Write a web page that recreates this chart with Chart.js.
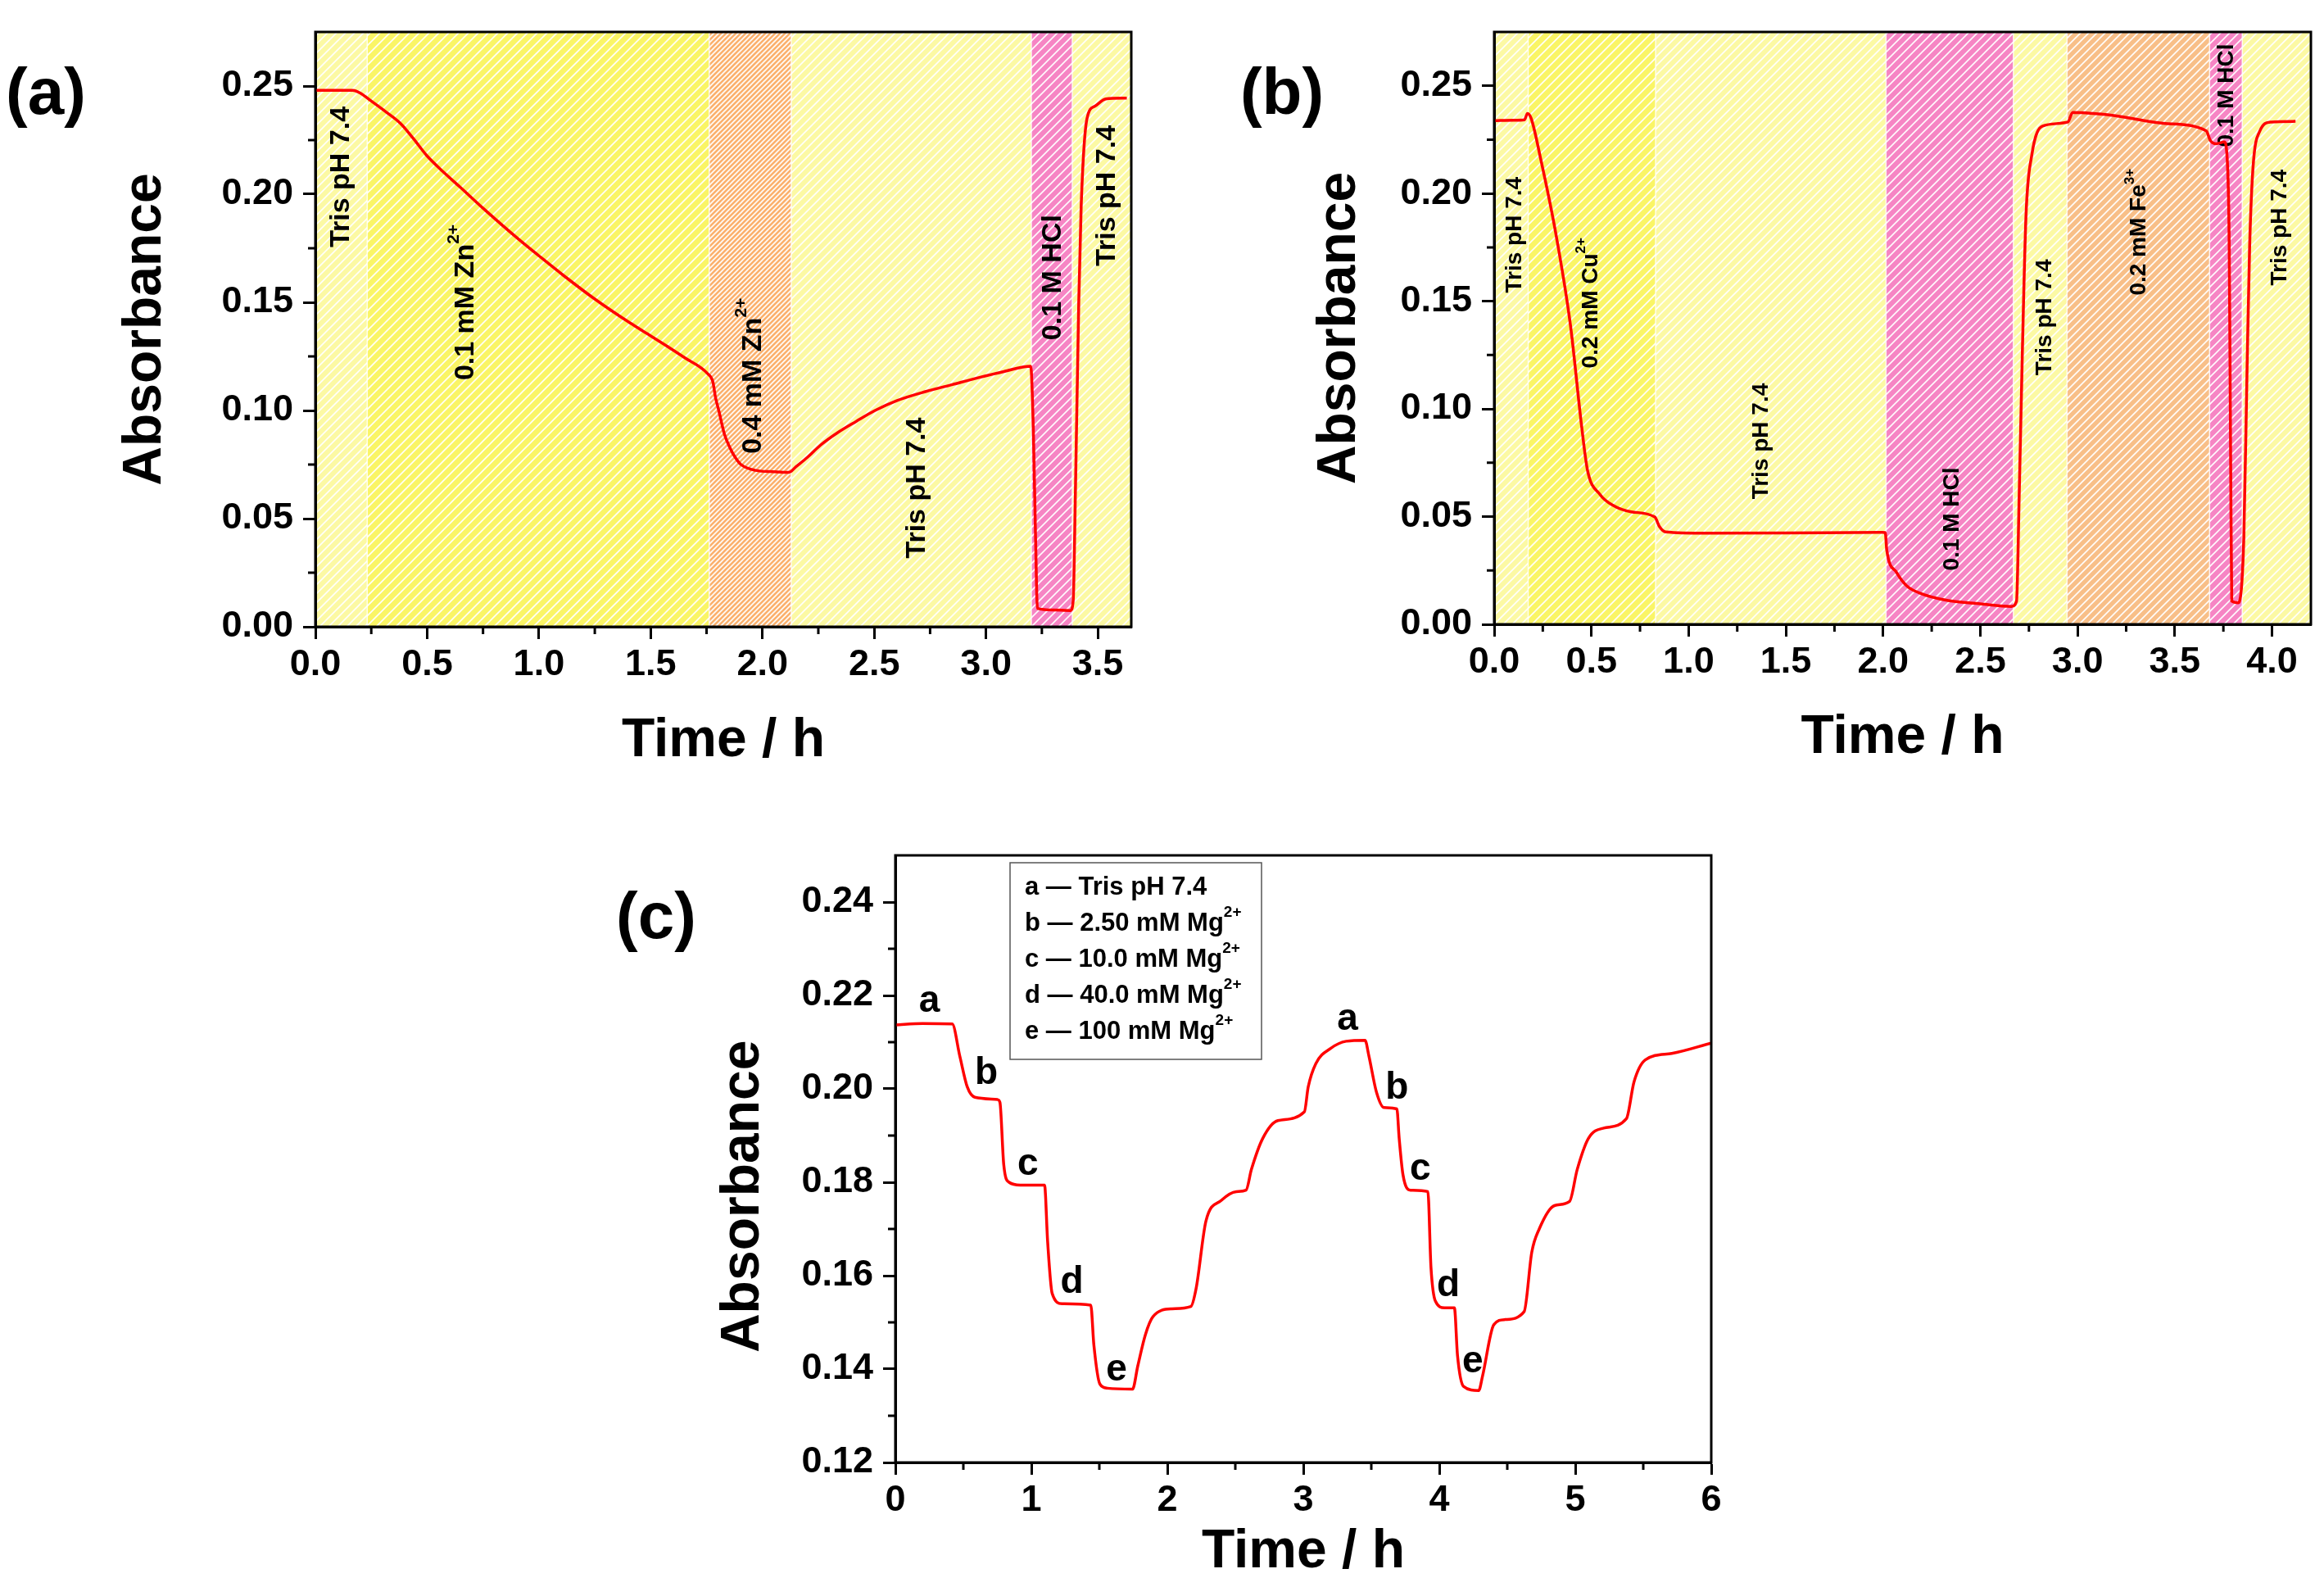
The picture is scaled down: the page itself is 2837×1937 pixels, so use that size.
<!DOCTYPE html>
<html>
<head>
<meta charset="utf-8">
<script src="https://cdn.jsdelivr.net/npm/chart.js@4.4.1/dist/chart.umd.min.js"></script>
<style>
html, body { margin: 0; padding: 0; background: #fff; }
body { width: 2837px; height: 1937px; position: relative; overflow: hidden; font-family: "Liberation Sans", Arial, sans-serif; }
canvas { position: absolute; }
.plabel { position: absolute; font-weight: bold; font-size: 80px; line-height: 1; transform: translate(-50%, -50%); }
</style>
</head>
<body>
<div class="plabel" style="left:56px; top:112px">(a)</div>
<div class="plabel" style="left:1565px; top:112px">(b)</div>
<div class="plabel" style="left:801px; top:1118px">(c)</div>
<canvas id="chartA" width="1420" height="950" style="left:0; top:0"></canvas>
<canvas id="chartB" width="1417" height="950" style="left:1420px; top:0"></canvas>
<canvas id="chartC" width="1450" height="987" style="left:700px; top:950px"></canvas>
<script>
// ---- panel (a): Zn2+ ----
const aTime = [0, 0.08, 0.166, 0.2, 0.248, 0.31, 0.381, 0.44, 0.497, 0.57, 0.646, 0.75, 0.911, 1.0, 1.109, 1.25, 1.407, 1.5, 1.573, 1.65, 1.755, 1.778, 1.79, 1.805, 1.83, 1.854, 1.88, 1.904, 1.97, 2.05, 2.119, 2.15, 2.202, 2.26, 2.334, 2.42, 2.5, 2.6, 2.732, 2.85, 2.964, 3.08, 3.2, 3.212, 3.222, 3.23, 3.3, 3.378, 3.39, 3.40, 3.415, 3.426, 3.452, 3.488, 3.536, 3.63];
const aAbs = [0.248, 0.248, 0.248, 0.2468, 0.2432, 0.2385, 0.2327, 0.2255, 0.218, 0.2105, 0.2034, 0.1935, 0.179, 0.1715, 0.1625, 0.1515, 0.1405, 0.1345, 0.1297, 0.1245, 0.117, 0.1133, 0.106, 0.0998, 0.089, 0.0829, 0.078, 0.075, 0.0723, 0.0717, 0.0714, 0.074, 0.0784, 0.084, 0.0896, 0.095, 0.0998, 0.1045, 0.1088, 0.112, 0.1151, 0.118, 0.1205, 0.09, 0.04, 0.0085, 0.0078, 0.0075, 0.012, 0.062, 0.15, 0.195, 0.235, 0.2407, 0.244, 0.2444];
const aXTicks = [0, 0.5, 1.0, 1.5, 2.0, 2.5, 3.0, 3.5];
const aYTicks = [0, 0.05, 0.10, 0.15, 0.20, 0.25];
const aBandEdges = [0, 0.232, 1.762, 2.129, 3.203, 3.386, 3.65];
const aBandKind = ['pale', 'yellow', 'orange', 'pale', 'pink', 'pale'];
const aLabelText = ['Tris pH 7.4', '0.1 mM Zn', '0.4 mM Zn', 'Tris pH 7.4', '0.1 M HCl', 'Tris pH 7.4'];
const aLabelSup = ['', '2+', '2+', '', '', ''];
const aLabelX = [0.116, 0.672, 1.96, 2.692, 3.301, 3.543];
const aLabelY = [0.208, 0.150, 0.116, 0.0642, 0.1615, 0.1993];

// ---- panel (b): Cu2+ / Fe3+ ----
const bTime = [0, 0.1, 0.156, 0.171, 0.19, 0.24, 0.316, 0.392, 0.45, 0.48, 0.544, 0.609, 0.705, 0.826, 0.85, 0.882, 1.092, 1.5, 1.993, 2.011, 2.019, 2.069, 2.12, 2.183, 2.335, 2.5, 2.659, 2.686, 2.70, 2.716, 2.735, 2.764, 2.82, 2.95, 2.975, 3.186, 3.45, 3.662, 3.683, 3.713, 3.755, 3.772, 3.78, 3.787, 3.793, 3.826, 3.855, 3.872, 3.885, 3.902, 3.936, 3.995, 4.121];
const bAbs = [0.2338, 0.234, 0.2342, 0.2372, 0.2349, 0.2157, 0.1819, 0.139, 0.0917, 0.0715, 0.0603, 0.0553, 0.0522, 0.0498, 0.0454, 0.0429, 0.0423, 0.0424, 0.0427, 0.0426, 0.0343, 0.0241, 0.018, 0.0147, 0.011, 0.0095, 0.0083, 0.0106, 0.06, 0.1256, 0.19, 0.2175, 0.2313, 0.2332, 0.2376, 0.2362, 0.2325, 0.2291, 0.2246, 0.2231, 0.2239, 0.2116, 0.1755, 0.08, 0.0108, 0.01, 0.04, 0.12, 0.1755, 0.2116, 0.2287, 0.2332, 0.2335];
const bXTicks = [0, 0.5, 1.0, 1.5, 2.0, 2.5, 3.0, 3.5, 4.0];
const bYTicks = [0, 0.05, 0.10, 0.15, 0.20, 0.25];
const bBandEdges = [0, 0.175, 0.83, 2.015, 2.67, 2.946, 3.679, 3.847, 4.2];
const bBandKind = ['pale', 'yellow', 'pale', 'pink', 'pale', 'peach', 'pink', 'pale'];
const bLabelText = ['Tris pH 7.4', '0.2 mM Cu', 'Tris pH 7.4', '0.1 M HCl', 'Tris pH 7.4', '0.2 mM Fe', '0.1 M HCl', 'Tris pH 7.4'];
const bLabelSup = ['', '2+', '', '', '', '3+', '', ''];
const bLabelX = [0.107, 0.499, 1.375, 2.354, 2.834, 3.318, 3.768, 4.042];
const bLabelY = [0.1808, 0.1492, 0.085, 0.0489, 0.1425, 0.1821, 0.2455, 0.1842];

// ---- panel (c): Mg2+ steps ----
const cTime = [0, 0.2, 0.418, 0.474, 0.529, 0.585, 0.752, 0.769, 0.797, 0.836, 0.919, 1.097, 1.12, 1.153, 1.226, 1.437, 1.46, 1.504, 1.56, 1.744, 1.783, 1.838, 1.894, 2.033, 2.173, 2.212, 2.284, 2.396, 2.507, 2.579, 2.618, 2.702, 2.813, 3.008, 3.036, 3.092, 3.203, 3.315, 3.454, 3.482, 3.538, 3.593, 3.688, 3.705, 3.733, 3.788, 3.916, 3.939, 3.972, 4.039, 4.111, 4.134, 4.178, 4.29, 4.318, 4.401, 4.485, 4.624, 4.68, 4.735, 4.847, 4.958, 5.014, 5.097, 5.209, 5.376, 5.432, 5.515, 5.71, 6.0];
const cAbs = [0.2137, 0.2140, 0.2139, 0.207, 0.2004, 0.1982, 0.1977, 0.1971, 0.1838, 0.18, 0.1794, 0.1794, 0.1672, 0.1562, 0.154, 0.1537, 0.1451, 0.1368, 0.1359, 0.1357, 0.1407, 0.1473, 0.1512, 0.1529, 0.1534, 0.1573, 0.1717, 0.1761, 0.178, 0.1783, 0.1827, 0.1894, 0.1932, 0.1951, 0.2004, 0.2054, 0.2087, 0.2102, 0.2104, 0.2071, 0.1993, 0.196, 0.1957, 0.1894, 0.1816, 0.1783, 0.178, 0.1617, 0.1545, 0.1531, 0.1531, 0.1429, 0.1363, 0.1354, 0.1385, 0.1495, 0.1506, 0.1523, 0.165, 0.17, 0.175, 0.1759, 0.1827, 0.1894, 0.1916, 0.1936, 0.2015, 0.2062, 0.2076, 0.2098];
const cXTicks = [0, 1, 2, 3, 4, 5, 6];
const cYTicks = [0.12, 0.14, 0.16, 0.18, 0.20, 0.22, 0.24];
const cLetter = ['a', 'b', 'c', 'd', 'e', 'a', 'b', 'c', 'd', 'e'];
const cLetterX = [0.25, 0.669, 0.975, 1.298, 1.627, 3.326, 3.688, 3.86, 4.067, 4.245];
const cLetterY = [0.2187, 0.2032, 0.1838, 0.1586, 0.1398, 0.2148, 0.2001, 0.1827, 0.1578, 0.1415];
const cLegendKey = ['a', 'b', 'c', 'd', 'e'];
const cLegendText = ['Tris pH 7.4', '2.50 mM Mg', '10.0 mM Mg', '40.0 mM Mg', '100 mM Mg'];
const cLegendSup = ['', '2+', '2+', '2+', '2+'];

const FONT = '"Liberation Sans", Arial, sans-serif';
// fill colour and hatch spacing for each kind of band
const bandColors = {
    pale: '#FCF9A4',
    yellow: '#FAF566',
    orange: '#FBB06C',
    peach: '#F8BF88',
    pink: '#F685C4'
};
const bandSpacing = { pale: 11, yellow: 12, orange: 6, peach: 10, pink: 11 };

Chart.defaults.font.family = FONT;
Chart.defaults.color = '#000';

function hatchPattern(ctx, color, n) {
    const tile = document.createElement('canvas');
    tile.width = n;
    tile.height = n;
    const g = tile.getContext('2d');
    g.fillStyle = color;
    g.fillRect(0, 0, n, n);
    g.strokeStyle = 'rgba(255,255,255,0.95)';
    g.lineWidth = 1.7;
    g.beginPath();
    g.moveTo(-2, n + 2); g.lineTo(n + 2, -2);
    g.moveTo(-2, 2); g.lineTo(2, -2);
    g.moveTo(n - 2, n + 2); g.lineTo(n + 2, n - 2);
    g.stroke();
    return ctx.createPattern(tile, 'repeat');
}

// text with an optional superscript, centred (or left aligned) at x,y
function richText(ctx, main, sup, x, y, size, rotate, alignLeft) {
    const supSize = Math.round(size * 0.62);
    ctx.save();
    ctx.translate(x, y);
    if (rotate) ctx.rotate(-Math.PI / 2);
    ctx.fillStyle = '#000';
    ctx.textBaseline = 'middle';
    ctx.textAlign = 'left';
    ctx.font = 'bold ' + size + 'px ' + FONT;
    const w1 = ctx.measureText(main).width;
    ctx.font = 'bold ' + supSize + 'px ' + FONT;
    const w2 = sup ? ctx.measureText(sup).width : 0;
    const start = alignLeft ? 0 : -(w1 + w2) / 2;
    ctx.font = 'bold ' + size + 'px ' + FONT;
    ctx.fillText(main, start, 0);
    if (sup) {
        ctx.font = 'bold ' + supSize + 'px ' + FONT;
        ctx.fillText(sup, start + w1, -size * 0.42);
    }
    ctx.restore();
}

function minorValues(ticks, max) {
    const out = [];
    const step = ticks[1] - ticks[0];
    for (let i = 0; i < ticks.length; i++) {
        const v = ticks[i] + step / 2;
        if (v < max - 1e-9) out.push(v);
    }
    return out;
}

function decorPlugin(o) {
    return {
        id: 'decor',
        beforeDraw(chart) {
            if (!o.bandEdges) return;
            const ctx = chart.ctx;
            const area = chart.chartArea;
            const xs = chart.scales.x;
            ctx.save();
            for (let i = 0; i < o.bandKind.length; i++) {
                const kind = o.bandKind[i];
                const x0 = xs.getPixelForValue(o.bandEdges[i]);
                const x1 = xs.getPixelForValue(o.bandEdges[i + 1]);
                ctx.fillStyle = hatchPattern(ctx, bandColors[kind], bandSpacing[kind]);
                ctx.fillRect(x0, area.top, x1 - x0, area.bottom - area.top);
            }
            ctx.strokeStyle = 'rgba(255,255,255,0.8)';
            ctx.lineWidth = 1.5;
            for (let i = 1; i < o.bandKind.length; i++) {
                const x = xs.getPixelForValue(o.bandEdges[i]);
                ctx.beginPath();
                ctx.moveTo(x, area.top);
                ctx.lineTo(x, area.bottom);
                ctx.stroke();
            }
            ctx.restore();
        },
        beforeDatasetsDraw(chart) {
            if (!o.labelText) return;
            const xs = chart.scales.x, ys = chart.scales.y;
            o.labelText.forEach((t, i) => {
                richText(chart.ctx, t, o.labelSup[i], xs.getPixelForValue(o.labelX[i]),
                    ys.getPixelForValue(o.labelY[i]), o.labelSize, true, false);
            });
        },
        afterDraw(chart) {
            const ctx = chart.ctx;
            const area = chart.chartArea;
            const xs = chart.scales.x, ys = chart.scales.y;
            ctx.save();
            ctx.strokeStyle = '#000';
            ctx.lineWidth = 3;
            ctx.strokeRect(area.left, area.top, area.right - area.left, area.bottom - area.top);
            // minor ticks
            ctx.beginPath();
            minorValues(o.xTicks, o.xMax).forEach(v => {
                const px = xs.getPixelForValue(v);
                ctx.moveTo(px, area.bottom);
                ctx.lineTo(px, area.bottom + 9);
            });
            minorValues(o.yTicks, o.yMax).forEach(v => {
                const py = ys.getPixelForValue(v);
                ctx.moveTo(area.left, py);
                ctx.lineTo(area.left - 9, py);
            });
            ctx.stroke();

            if (o.letters) {
                ctx.fillStyle = '#000';
                ctx.font = 'bold 46px ' + FONT;
                ctx.textAlign = 'center';
                ctx.textBaseline = 'middle';
                o.letters.forEach((l, i) => {
                    ctx.fillText(l, xs.getPixelForValue(o.letterX[i]), ys.getPixelForValue(o.letterY[i]));
                });
            }
            if (o.legend) {
                const lg = o.legend;
                ctx.strokeStyle = '#555';
                ctx.lineWidth = 1.5;
                ctx.strokeRect(lg.left, lg.top, lg.width, lg.height);
                lg.keys.forEach((k, i) => {
                    richText(ctx, k + ' \u2014 ' + lg.text[i], lg.sup[i], lg.left + 18,
                        lg.top + 30 + i * 44, 31, false, true);
                });
            }
            ctx.restore();
        }
    };
}

function makeChart(id, o) {
    const points = o.time.map((t, i) => ({ x: t, y: o.abs[i] }));
    return new Chart(document.getElementById(id), {
        type: 'line',
        data: {
            datasets: [{
                data: points,
                borderColor: '#FF0000',
                borderWidth: 3.5,
                pointRadius: 0,
                fill: false,
                cubicInterpolationMode: 'monotone'
            }]
        },
        options: {
            responsive: false,
            animation: false,
            events: [],
            layout: { padding: o.pad },
            plugins: { legend: { display: false }, tooltip: { enabled: false } },
            scales: {
                x: {
                    type: 'linear',
                    min: o.xMin,
                    max: o.xMax,
                    afterBuildTicks: s => { s.ticks = o.xTicks.map(v => ({ value: v })); },
                    afterFit: s => { s.height = o.xH; },
                    ticks: {
                        callback: v => v.toFixed(o.xDec),
                        font: { size: 45, weight: 'bold' },
                        color: '#000',
                        padding: 5,
                        maxRotation: 0
                    },
                    grid: { drawOnChartArea: false, tickLength: 15, tickWidth: 3, tickColor: '#000' },
                    border: { color: '#000', width: 3 },
                    title: {
                        display: true,
                        text: 'Time / h',
                        color: '#000',
                        font: { size: 66, weight: 'bold' },
                        padding: { top: 0, bottom: o.xTitlePad }
                    }
                },
                y: {
                    type: 'linear',
                    min: o.yMin,
                    max: o.yMax,
                    afterBuildTicks: s => { s.ticks = o.yTicks.map(v => ({ value: v })); },
                    afterFit: s => { s.width = o.yW; },
                    ticks: {
                        callback: v => v.toFixed(2),
                        font: { size: 45, weight: 'bold' },
                        color: '#000',
                        padding: 12
                    },
                    grid: { drawOnChartArea: false, tickLength: 15, tickWidth: 3, tickColor: '#000' },
                    border: { color: '#000', width: 3 },
                    title: {
                        display: true,
                        text: o.yTitle,
                        color: '#000',
                        font: { size: 66, weight: 'bold' },
                        padding: { top: o.yTitlePad, bottom: 0 }
                    }
                }
            }
        },
        plugins: [decorPlugin(o)]
    });
}

makeChart('chartA', {
    time: aTime, abs: aAbs,
    xMin: 0, xMax: 3.65, xTicks: aXTicks, xDec: 1,
    yMin: 0, yMax: 0.275, yTicks: aYTicks,
    pad: { left: 0, top: 25, right: 39, bottom: 0 },
    yW: 385, xH: 185, yTitlePad: 138, xTitlePad: 6, yTitle: 'Absorbance',
    bandEdges: aBandEdges, bandKind: aBandKind,
    labelText: aLabelText, labelSup: aLabelSup, labelX: aLabelX, labelY: aLabelY, labelSize: 34
});

makeChart('chartB', {
    time: bTime, abs: bAbs,
    xMin: 0, xMax: 4.2, xTicks: bXTicks, xDec: 1,
    yMin: 0, yMax: 0.275, yTicks: bYTicks,
    pad: { left: 0, top: 22, right: 16, bottom: 0 },
    yW: 404, xH: 188, yTitlePad: 176, xTitlePad: 10, yTitle: 'Absorbance',
    bandEdges: bBandEdges, bandKind: bBandKind,
    labelText: bLabelText, labelSup: bLabelSup, labelX: bLabelX, labelY: bLabelY, labelSize: 28
});

makeChart('chartC', {
    time: cTime, abs: cAbs,
    xMin: 0, xMax: 6, xTicks: cXTicks, xDec: 0,
    yMin: 0.12, yMax: 0.25, yTicks: cYTicks,
    pad: { left: 0, top: 94, right: 61, bottom: 0 },
    yW: 393, xH: 152, yTitlePad: 168, xTitlePad: 3, yTitle: 'Absorbance     ',
    letters: cLetter, letterX: cLetterX, letterY: cLetterY,
    legend: { left: 533, top: 103, width: 307, height: 240, keys: cLegendKey, text: cLegendText, sup: cLegendSup }
});
</script>
</body>
</html>
